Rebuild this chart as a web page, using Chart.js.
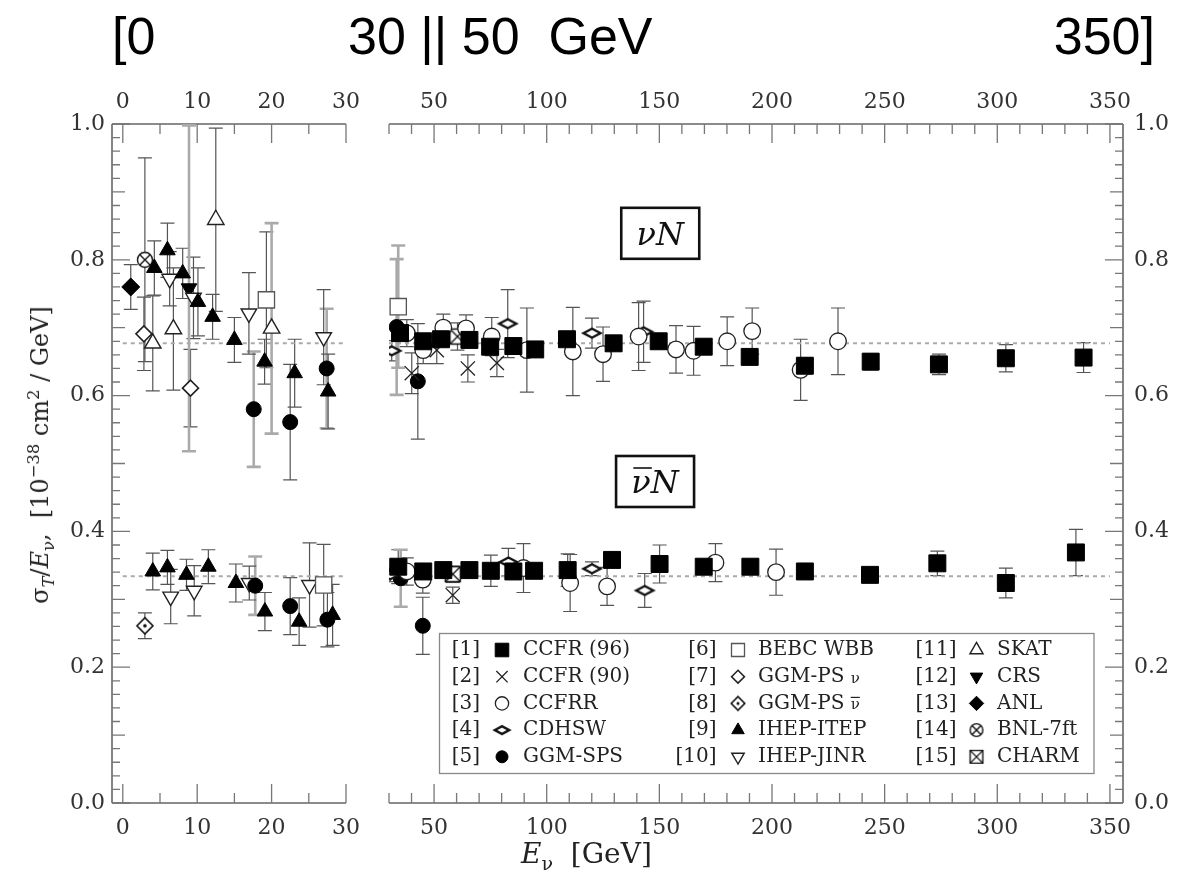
<!DOCTYPE html>
<html>
<head>
<meta charset="utf-8">
<script src="https://cdn.jsdelivr.net/npm/chart.js@4.4.1/dist/chart.umd.min.js"></script>
<style>
  html, body { margin: 0; padding: 0; background: #fff; }
  #page { position: relative; width: 1183px; height: 882px; overflow: hidden; font-family: "DejaVu Serif", serif; color: #222; }
  canvas { position: absolute; top: 0; }
  #leftPanel { left: 0; }
  #rightPanel { left: 372px; }
  .head { position: absolute; top: 10px; font-family: "Liberation Sans", Arial, sans-serif; font-size: 52px; line-height: 52px; color: #000; white-space: pre; }
  #ytitle { position: absolute; left: 40px; top: 455px; transform: translate(-50%, -50%) rotate(-90deg); white-space: nowrap; font-size: 24px; line-height: 28px; }
  #xtitle { position: absolute; left: 521px; top: 838px; font-size: 28px; line-height: 32px; white-space: pre; }
  sub, sup { font-size: 68%; line-height: 0; }
</style>
</head>
<body>
<div id="page">
  <div class="head" style="left:112px">[0</div>
  <div class="head" style="left:348px">30 || 50  GeV</div>
  <div class="head" style="right:28px">350]</div>
  <canvas id="leftPanel" width="372" height="882"></canvas>
  <canvas id="rightPanel" width="811" height="882"></canvas>
  <div id="ytitle">σ<sub><i>T</i></sub>/<i>E</i><sub>ν</sub>, &nbsp;[10<sup>−38</sup> cm<sup>2</sup> / GeV]</div>
  <div id="xtitle"><i>E</i><sub>ν</sub>  [GeV]</div>
</div>
<script>
// axis ranges of the broken energy axis
const leftRange = [-1.45, 30]
const rightRange = [30, 355.8]
const leftTicks = [0, 10, 20, 30]
const rightTicks = [50, 100, 150, 200, 250, 300, 350]
const yTicks = [0, 0.2, 0.4, 0.6, 0.8, 1.0]
const rightOffset = 372

// averages (dotted lines)
const nuMean = 0.677
const nuBarMean = 0.334

// points: [E (GeV), sigma_T/E, error, 1 = grey bar]
const ccfr96Nu = [[34.9, 0.692, 0.01], [45.2, 0.680, 0.01], [53.1, 0.683, 0.01], [65.7, 0.682, 0.01], [74.9, 0.672, 0.01], [85.2, 0.673, 0.01], [94.9, 0.668, 0.01], [109, 0.683, 0.01], [129.7, 0.677, 0.01], [149.7, 0.680, 0.01], [169.7, 0.672, 0.01], [190.1, 0.657, 0.01], [214.6, 0.644, 0.012], [243.8, 0.650, 0.012], [274.1, 0.646, 0.015], [303.8, 0.655, 0.02], [338.3, 0.656, 0.022]]
const ccfr96NuBar = [[34.1, 0.348, 0.025], [45.2, 0.341, 0.01], [54.1, 0.343, 0.01], [65.7, 0.343, 0.01], [75.2, 0.342, 0.023], [85.2, 0.341, 0.01], [94.4, 0.342, 0.01], [109.3, 0.343, 0.024], [129.0, 0.358, 0.01], [150.1, 0.352, 0.028], [169.7, 0.348, 0.01], [190.4, 0.348, 0.01], [214.6, 0.341, 0.01], [243.5, 0.336, 0.01], [273.4, 0.353, 0.018], [303.8, 0.324, 0.022], [334.9, 0.369, 0.034]]
const ccfr90Nu = [[40.1, 0.633, 0.03], [51.2, 0.667, 0.02], [65.0, 0.640, 0.02], [77.9, 0.648, 0.02]]
const ccfr90NuBar = [[58.3, 0.306, 0.012]]
const ccfrrNu = [[37.9, 0.692, 0.02], [45.2, 0.667, 0.02], [54.1, 0.700, 0.02], [64.2, 0.699, 0.02], [75.6, 0.687, 0.028], [91.2, 0.667, 0.062], [111.6, 0.665, 0.065], [125, 0.661, 0.04], [140.8, 0.687, 0.05], [157.4, 0.668, 0.035], [165.2, 0.666, 0.036], [180.1, 0.680, 0.036], [191.2, 0.695, 0.034], [212.7, 0.638, 0.045], [229.3, 0.680, 0.049]]
const ccfrrNuBar = [[37.9, 0.341, 0.02], [45, 0.329, 0.02], [89.7, 0.346, 0.036], [110.4, 0.324, 0.042], [126.8, 0.319, 0.028], [174.9, 0.354, 0.028], [201.8, 0.340, 0.034]]
const cdhswNu = [[31.2, 0.666, 0.015], [82.7, 0.706, 0.05], [120.1, 0.692, 0.022], [143, 0.694, 0.045]]
const cdhswNuBar = [[30.5, 0.336, 0.01], [83.0, 0.355, 0.02], [120.1, 0.345, 0.01], [143.5, 0.313, 0.025]]
const ggmSpsNu = [[17.6, 0.580, 0.085, 1], [22.5, 0.561, 0.085], [27.4, 0.640, 0.088, 1], [33.4, 0.701, 0.1, 1], [42.8, 0.621, 0.085]]
const ggmSpsNuBar = [[17.8, 0.320, 0.043, 1], [22.5, 0.290, 0.042], [27.5, 0.270, 0.04], [35.2, 0.331, 0.042, 1], [45.0, 0.261, 0.042]]
const bebcNu = [[19.3, 0.741, 0.1], [34.1, 0.731, 0.09, 1]]
const bebcNuBar = [[27.0, 0.321, 0.06]]
const ggmPsNu = [[2.84, 0.691, 0.054], [9.1, 0.611, 0.057]]
const ggmPsNuBar = [[2.97, 0.261, 0.019]]
const ihepItepNu = [[4.24, 0.788, 0.04], [6.0, 0.814, 0.04], [8.05, 0.780, 0.037], [10.1, 0.738, 0.05], [12.07, 0.716, 0.033], [15.0, 0.682, 0.033], [19.06, 0.650, 0.033], [23.1, 0.633, 0.05], [27.6, 0.606, 0.055]]
const ihepItepNuBar = [[4.03, 0.341, 0.027], [6.0, 0.347, 0.025], [8.56, 0.336, 0.023], [11.5, 0.348, 0.025], [15.2, 0.324, 0.028], [19.1, 0.282, 0.028], [23.7, 0.267, 0.035], [28.2, 0.277, 0.045]]
const ihepJinrNu = [[6.3, 0.772, 0.04], [9.5, 0.744, 0.06], [16.95, 0.721, 0.06], [27.0, 0.686, 0.07]]
const ihepJinrNuBar = [[6.44, 0.304, 0.04], [9.6, 0.3125, 0.037], [17.0, 0.324, 0.025], [25.1, 0.321, 0.062]]
const skatNu = [[4.03, 0.677, 0.07], [6.8, 0.698, 0.09], [12.5, 0.859, 0.135], [20.0, 0.699, 0.155, 1]]
const crsNu = [[8.9, 0.758, 0.24, 1]]
const anlNu = [[1.07, 0.760, 0.033]]
const bnlNu = [[2.97, 0.800, 0.15]]
const charmNu = [[60.4, 0.687, 0.02]]
const charmNuBar = [[58.3, 0.337, 0.012]]

// small canvases for the symbols Chart.js has no style for
function makeMarker(kind, k) {
  const s = Math.round(24 * k)
  const c = document.createElement('canvas')
  c.width = s
  c.height = s
  const g = c.getContext('2d')
  const m = s / 2
  g.strokeStyle = '#111'
  g.fillStyle = '#fff'
  g.lineWidth = 1.4
  if (kind === 'crossCircle') {
    const r = 7.5 * k
    g.beginPath(); g.arc(m, m, r, 0, Math.PI * 2); g.fill(); g.stroke()
    const d = r * 0.7
    g.beginPath()
    g.moveTo(m - d, m - d); g.lineTo(m + d, m + d)
    g.moveTo(m + d, m - d); g.lineTo(m - d, m + d)
    g.stroke()
  } else if (kind === 'crossBox') {
    const h = 7.5 * k
    g.beginPath(); g.rect(m - h, m - h, 2 * h, 2 * h); g.fill(); g.stroke()
    g.beginPath()
    g.moveTo(m - h, m - h); g.lineTo(m + h, m + h)
    g.moveTo(m + h, m - h); g.lineTo(m - h, m + h)
    g.stroke()
  } else if (kind === 'flatDiamond') {
    const w = 8.5 * k, h = 4.5 * k
    g.lineWidth = 2.4
    g.beginPath()
    g.moveTo(m - w, m); g.lineTo(m, m - h); g.lineTo(m + w, m); g.lineTo(m, m + h); g.closePath()
    g.fill(); g.stroke()
  } else if (kind === 'dotDiamond') {
    const r = 8 * k
    g.lineWidth = 1.6
    g.beginPath()
    g.moveTo(m - r, m); g.lineTo(m, m - r); g.lineTo(m + r, m); g.lineTo(m, m + r); g.closePath()
    g.fill(); g.stroke()
    g.fillStyle = '#111'
    g.beginPath(); g.arc(m, m, 1.8 * k, 0, Math.PI * 2); g.fill()
  }
  return c
}

const experiments = [
  { tag: '[1]', name: 'CCFR (96)', nu: ccfr96Nu, nuBar: ccfr96NuBar, style: 'rect', radius: 12, fill: '#000', stroke: '#000', width: 1 },
  { tag: '[2]', name: 'CCFR (90)', nu: ccfr90Nu, nuBar: ccfr90NuBar, style: 'crossRot', radius: 10, fill: '#222', stroke: '#222', width: 1.3 },
  { tag: '[3]', name: 'CCFRR', nu: ccfrrNu, nuBar: ccfrrNuBar, style: 'circle', radius: 8.3, fill: '#fff', stroke: '#222', width: 1.3 },
  { tag: '[4]', name: 'CDHSW', nu: cdhswNu, nuBar: cdhswNuBar, custom: 'flatDiamond' },
  { tag: '[5]', name: 'GGM-SPS', nu: ggmSpsNu, nuBar: ggmSpsNuBar, style: 'circle', radius: 7.5, fill: '#000', stroke: '#000', width: 1 },
  { tag: '[6]', name: 'BEBC WBB', nu: bebcNu, nuBar: bebcNuBar, style: 'rect', radius: 11.5, fill: '#fff', stroke: '#555', width: 1.3 },
  { tag: '[7]', name: 'GGM-PS', small: 'ν', nu: ggmPsNu, nuBar: [], style: 'rectRot', radius: 8, fill: '#fff', stroke: '#222', width: 1.6 },
  { tag: '[8]', name: 'GGM-PS', small: 'ν', bar: true, nu: [], nuBar: ggmPsNuBar, custom: 'dotDiamond' },
  { tag: '[9]', name: 'IHEP-ITEP', nu: ihepItepNu, nuBar: ihepItepNuBar, style: 'triangle', radius: 9, fill: '#000', stroke: '#000', width: 1 },
  { tag: '[10]', name: 'IHEP-JINR', nu: ihepJinrNu, nuBar: ihepJinrNuBar, style: 'triangle', rotation: 180, radius: 9, fill: '#fff', stroke: '#222', width: 1.4 },
  { tag: '[11]', name: 'SKAT', nu: skatNu, nuBar: [], style: 'triangle', radius: 9.5, fill: '#fff', stroke: '#222', width: 1.4 },
  { tag: '[12]', name: 'CRS', nu: crsNu, nuBar: [], style: 'triangle', rotation: 180, radius: 9, fill: '#000', stroke: '#000', width: 1 },
  { tag: '[13]', name: 'ANL', nu: anlNu, nuBar: [], style: 'rectRot', radius: 9, fill: '#000', stroke: '#000', width: 1 },
  { tag: '[14]', name: 'BNL-7ft', nu: bnlNu, nuBar: [], custom: 'crossCircle' },
  { tag: '[15]', name: 'CHARM', nu: charmNu, nuBar: charmNuBar, custom: 'crossBox' }
]
experiments.forEach(exp => {
  if (exp.custom) {
    exp.style = makeMarker(exp.custom, 1)
    exp.legendStyle = makeMarker(exp.custom, 0.85)
    exp.radius = 8
    exp.fill = '#fff'
    exp.stroke = '#111'
    exp.width = 1.4
  }
})

// boxed frame with inward ticks on both energy axes
const framePlugin = {
  id: 'frame',
  beforeDatasetsDraw(chart, args, opts) {
    const { ctx, chartArea: a, scales } = chart
    const isLeft = opts.side === 'left'
    const edge = isLeft ? a.left : a.right
    ctx.save()
    ctx.strokeStyle = '#666'
    ctx.lineWidth = 1.6
    ctx.beginPath()
    ctx.moveTo(a.left, a.top); ctx.lineTo(a.right, a.top)
    ctx.moveTo(a.left, a.bottom); ctx.lineTo(a.right, a.bottom)
    ctx.moveTo(edge, a.top); ctx.lineTo(edge, a.bottom)
    ctx.stroke()

    ctx.lineWidth = 1.3
    ctx.strokeStyle = '#777'
    ctx.beginPath()
    const step = isLeft ? 5 : 10
    const big = isLeft ? 10 : 50
    for (let v = isLeft ? 0 : 30; v <= (isLeft ? 30 : 350); v += step) {
      const px = scales.x.getPixelForValue(v)
      const len = v % big === 0 ? 19 : 10
      ctx.moveTo(px, a.top); ctx.lineTo(px, a.top + len)
      ctx.moveTo(px, a.bottom); ctx.lineTo(px, a.bottom - len)
    }
    const dir = isLeft ? 1 : -1
    for (let i = 0; i <= 50; i++) {
      const py = scales.y.getPixelForValue(i / 50)
      const len = i % 10 === 0 ? 18 : (i % 5 === 0 ? 13 : 8)
      ctx.moveTo(edge, py); ctx.lineTo(edge + dir * len, py)
    }
    ctx.stroke()
    ctx.restore()
  }
}

// vertical error bars with caps, drawn under the markers
const errorBarPlugin = {
  id: 'errorBars',
  beforeDatasetsDraw(chart) {
    const { ctx, chartArea: a, scales: { x, y } } = chart
    ctx.save()
    ctx.beginPath()
    ctx.rect(a.left, a.top, a.width, a.height)
    ctx.clip()
    chart.data.datasets.forEach(ds => {
      if (ds.type !== 'scatter') return
      ds.data.forEach(p => {
        const px = x.getPixelForValue(p.x)
        const top = y.getPixelForValue(p.y + p.err)
        const bot = y.getPixelForValue(p.y - p.err)
        ctx.strokeStyle = p.grey ? '#aaa' : '#555'
        ctx.lineWidth = p.grey ? 2.6 : 1.2
        ctx.beginPath()
        ctx.moveTo(px, top); ctx.lineTo(px, bot)
        ctx.moveTo(px - 7, top); ctx.lineTo(px + 7, top)
        ctx.moveTo(px - 7, bot); ctx.lineTo(px + 7, bot)
        ctx.stroke()
      })
    })
    ctx.restore()
  }
}

// reaction labels and the experiment legend
const labelPlugin = {
  id: 'labels',
  afterDraw(chart, args, opts) {
    if (!opts.show) return
    const { ctx, scales: { x, y } } = chart
    ctx.save()
    const boxes = [{ E: 150.4, v: 0.839, bar: false }, { E: 148.1, v: 0.4735, bar: true }]
    boxes.forEach(b => {
      const cx = x.getPixelForValue(b.E)
      const cy = y.getPixelForValue(b.v)
      ctx.strokeStyle = '#111'
      ctx.lineWidth = 2.6
      ctx.strokeRect(cx - 39, cy - 25.5, 78, 51)
      ctx.font = 'italic 32px "DejaVu Serif"'
      ctx.fillStyle = '#111'
      ctx.textBaseline = 'alphabetic'
      ctx.textAlign = 'left'
      const w1 = ctx.measureText('ν').width
      const w2 = ctx.measureText('N').width
      const tx = cx - (w1 + w2) / 2
      const base = cy + 11.5
      ctx.fillText('ν', tx, base)
      ctx.fillText('N', tx + w1, base)
      if (b.bar) {
        ctx.lineWidth = 1.6
        ctx.beginPath()
        ctx.moveTo(tx + 2, base - 25); ctx.lineTo(tx + w1 + 1, base - 25)
        ctx.stroke()
      }
    })

    // legend box
    const lx = 439.5 - rightOffset
    ctx.fillStyle = '#fff'
    ctx.fillRect(lx, 633.5, 654.5, 140)
    ctx.strokeStyle = '#888'
    ctx.lineWidth = 1.3
    ctx.strokeRect(lx, 633.5, 654.5, 140)
    const cols = [
      { tag: 480, mark: 502, text: 523 },
      { tag: 716.5, mark: 738, text: 758 },
      { tag: 956.5, mark: 976.5, text: 997 }
    ]
    experiments.forEach((exp, i) => {
      const col = cols[Math.floor(i / 5)]
      const ry = 650 + 26.7 * (i % 5)
      ctx.fillStyle = '#222'
      ctx.font = '20px "DejaVu Serif"'
      ctx.textBaseline = 'middle'
      ctx.textAlign = 'right'
      ctx.fillText(exp.tag, col.tag - rightOffset, ry)
      ctx.textAlign = 'left'
      const tx = col.text - rightOffset
      ctx.fillText(exp.name, tx, ry)
      if (exp.small) {
        const nx = tx + ctx.measureText(exp.name + ' ').width
        ctx.font = '15px "DejaVu Serif"'
        ctx.fillText(exp.small, nx, ry + 2)
        if (exp.bar) {
          const nw = ctx.measureText(exp.small).width
          ctx.strokeStyle = '#222'
          ctx.lineWidth = 1.2
          ctx.beginPath()
          ctx.moveTo(nx, ry - 6); ctx.lineTo(nx + nw, ry - 6)
          ctx.stroke()
        }
      }
      ctx.fillStyle = exp.fill
      ctx.strokeStyle = exp.stroke
      ctx.lineWidth = exp.width
      Chart.helpers.drawPoint(ctx, {
        pointStyle: exp.legendStyle || exp.style,
        radius: exp.radius * 0.8,
        rotation: exp.rotation || 0,
        borderWidth: exp.width
      }, col.mark - rightOffset, ry)
    })
    ctx.restore()
  }
}

const tickFont = { family: 'DejaVu Serif', size: 22 }

function buildPanel(canvasId, side) {
  const isLeft = side === 'left'
  const range = isLeft ? leftRange : rightRange
  const labelTicks = isLeft ? leftTicks : rightTicks
  const inPanel = p => isLeft ? p[0] < 30 : p[0] >= 30

  const datasets = experiments.map(exp => ({
    type: 'scatter',
    label: exp.name,
    data: exp.nu.concat(exp.nuBar).filter(inPanel).map(p => ({ x: p[0], y: p[1], err: p[2], grey: p[3] === 1 })),
    pointStyle: exp.style,
    pointRadius: exp.radius,
    pointHoverRadius: exp.radius,
    pointRotation: exp.rotation || 0,
    pointBackgroundColor: exp.fill,
    pointBorderColor: exp.stroke,
    pointBorderWidth: exp.width,
    order: 1
  }))
  // dotted average lines for nu N and nubar N
  for (const mean of [nuMean, nuBarMean]) {
    datasets.push({
      type: 'line',
      data: [{ x: isLeft ? 0 : 30, y: mean }, { x: isLeft ? 30 : 350, y: mean }],
      borderColor: '#aaa',
      borderWidth: 2,
      borderDash: [4, 4],
      pointRadius: 0,
      order: 10
    })
  }

  const xAxis = pos => ({
    type: 'linear',
    position: pos,
    min: range[0],
    max: range[1],
    grid: { display: false, drawTicks: false },
    border: { display: false },
    afterBuildTicks: s => { s.ticks = labelTicks.map(v => ({ value: v })) },
    afterFit: s => { s.height = pos === 'top' ? 124 : 79 },
    ticks: { font: tickFont, color: '#333', padding: pos === 'top' ? 9 : 12, maxRotation: 0, autoSkip: false }
  })

  return new Chart(document.getElementById(canvasId), {
    data: { datasets },
    options: {
      responsive: false,
      animation: false,
      layout: { padding: isLeft ? { left: 0, right: 13, top: 0, bottom: 0 } : { left: 17, right: 0, top: 0, bottom: 0 } },
      scales: {
        x: xAxis('bottom'),
        x2: xAxis('top'),
        y: {
          type: 'linear',
          position: isLeft ? 'left' : 'right',
          min: 0,
          max: 1,
          grid: { display: false, drawTicks: false },
          border: { display: false },
          afterBuildTicks: s => { s.ticks = yTicks.map(v => ({ value: v })) },
          afterFit: s => { s.width = isLeft ? 112 : 60 },
          ticks: { font: tickFont, color: '#333', padding: isLeft ? 7 : 11, callback: v => v.toFixed(1) }
        }
      },
      plugins: {
        legend: { display: false },
        tooltip: { enabled: false },
        frame: { side },
        labels: { show: !isLeft }
      }
    },
    plugins: [framePlugin, errorBarPlugin, labelPlugin]
  })
}

buildPanel('leftPanel', 'left')
buildPanel('rightPanel', 'right')
</script>
</body>
</html>
